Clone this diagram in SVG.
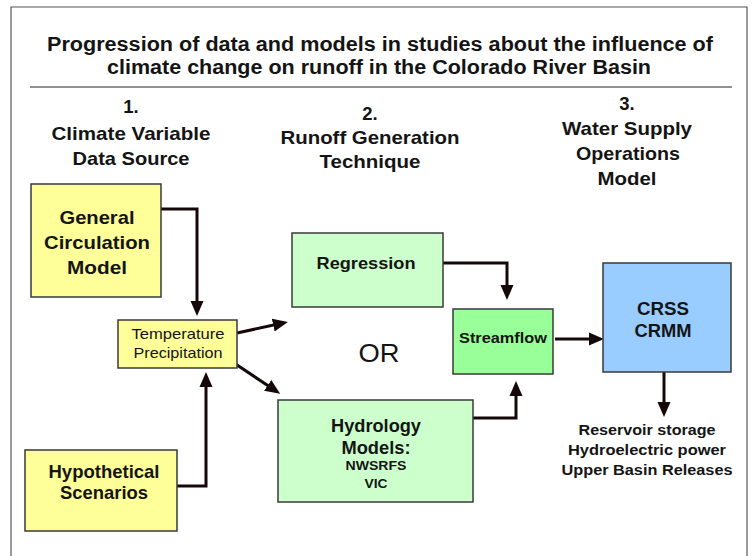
<svg xmlns="http://www.w3.org/2000/svg" width="756" height="556" viewBox="0 0 756 556">
<defs>
<marker id="ah" markerUnits="userSpaceOnUse" markerWidth="16" markerHeight="14" refX="10" refY="7" orient="auto">
<path d="M0,0.5 L15,7 L0,13.5 z" fill="#140808"/>
</marker>
<style>
text{font-family:"Liberation Sans",Arial,sans-serif;fill:#141414;text-anchor:middle;dominant-baseline:central}
.b{font-weight:bold}
.box{stroke:#3a3a3a;stroke-width:1.5}
.y{fill:#ffff99}.lg{fill:#ccffcc}.g{fill:#99ff99}.bl{fill:#99ccff}
.c{fill:none;stroke:#140808;stroke-width:3;marker-end:url(#ah)}
</style>
</defs>
<rect width="756" height="556" fill="#fff"/>
<path d="M11,556 V7 H747 V556" fill="none" stroke="#555" stroke-width="1.2"/>
<g id="title">
<text class="b" x="380" y="44" font-size="19.5" textLength="666" lengthAdjust="spacingAndGlyphs">Progression of data and models in studies about the influence of</text>
<text class="b" x="379" y="67" font-size="19.5" textLength="544" lengthAdjust="spacingAndGlyphs">climate change on runoff in the Colorado River Basin</text>
<line x1="30" y1="87" x2="732" y2="87" stroke="#222" stroke-width="1.2"/>
</g>
<g id="headers">
<text class="b" x="131" y="106" font-size="18.5">1.</text>
<text class="b" x="131" y="133" font-size="18.5" textLength="159" lengthAdjust="spacingAndGlyphs">Climate Variable</text>
<text class="b" x="131" y="158" font-size="18.5" textLength="117" lengthAdjust="spacingAndGlyphs">Data Source</text>
<text class="b" x="370" y="113" font-size="18.5">2.</text>
<text class="b" x="370" y="137" font-size="18.5" textLength="179" lengthAdjust="spacingAndGlyphs">Runoff Generation</text>
<text class="b" x="370" y="161" font-size="18.5" textLength="101" lengthAdjust="spacingAndGlyphs">Technique</text>
<text class="b" x="627" y="103" font-size="18.5">3.</text>
<text class="b" x="627" y="128" font-size="18.5" textLength="130" lengthAdjust="spacingAndGlyphs">Water Supply</text>
<text class="b" x="628" y="153" font-size="18.5" textLength="104" lengthAdjust="spacingAndGlyphs">Operations</text>
<text class="b" x="627" y="178" font-size="18.5" textLength="59" lengthAdjust="spacingAndGlyphs">Model</text>
</g>
<g id="connectors">
<path class="c" d="M161,209 H197 V311"/>
<path class="c" d="M177,486 H206 V377"/>
<path class="c" d="M237,333 L283,323"/>
<path class="c" d="M228,359 L276,391"/>
<path class="c" d="M443,263 H507 V295"/>
<path class="c" d="M468,418 H516 V386"/>
<path class="c" d="M555,339 H599"/>
<path class="c" d="M664,372 V412"/>
</g>
<g id="gcm">
<rect class="box y" x="31" y="184" width="130" height="113"/>
<text class="b" x="97" y="217" font-size="18.5" textLength="75" lengthAdjust="spacingAndGlyphs">General</text>
<text class="b" x="97" y="242" font-size="18.5" textLength="106" lengthAdjust="spacingAndGlyphs">Circulation</text>
<text class="b" x="97" y="267" font-size="18.5" textLength="60" lengthAdjust="spacingAndGlyphs">Model</text>
</g>
<g id="temp">
<rect class="box y" x="118" y="320" width="119" height="48"/>
<text x="178" y="334" font-size="14.5" textLength="93" lengthAdjust="spacingAndGlyphs">Temperature</text>
<text x="178" y="353" font-size="14.5" textLength="89" lengthAdjust="spacingAndGlyphs">Precipitation</text>
</g>
<g id="hypo">
<rect class="box y" x="25" y="450" width="152" height="81"/>
<text class="b" x="104" y="471" font-size="18.5" textLength="111" lengthAdjust="spacingAndGlyphs">Hypothetical</text>
<text class="b" x="104" y="492" font-size="18.5" textLength="88" lengthAdjust="spacingAndGlyphs">Scenarios</text>
</g>
<g id="regression">
<rect class="box lg" x="292" y="233" width="151" height="74"/>
<text class="b" x="366" y="263" font-size="16.5" textLength="99" lengthAdjust="spacingAndGlyphs">Regression</text>
</g>
<g id="or">
<text x="379" y="353" font-size="25" textLength="41" lengthAdjust="spacingAndGlyphs">OR</text>
</g>
<g id="hydrology">
<rect class="box lg" x="278" y="400" width="195" height="102"/>
<text class="b" x="376" y="425" font-size="18.5" textLength="90" lengthAdjust="spacingAndGlyphs">Hydrology</text>
<text class="b" x="376" y="447" font-size="18.5" textLength="69" lengthAdjust="spacingAndGlyphs">Models:</text>
<text class="b" x="376" y="465" font-size="13" textLength="61" lengthAdjust="spacingAndGlyphs">NWSRFS</text>
<text class="b" x="376" y="483" font-size="13" textLength="23" lengthAdjust="spacingAndGlyphs">VIC</text>
</g>
<g id="streamflow">
<rect class="box g" x="453" y="309" width="100" height="65"/>
<text class="b" x="503" y="337" font-size="15" textLength="88" lengthAdjust="spacingAndGlyphs">Streamflow</text>
</g>
<g id="crss">
<rect class="box bl" x="603" y="263" width="128" height="109"/>
<text class="b" x="663" y="308" font-size="18.5" textLength="52" lengthAdjust="spacingAndGlyphs">CRSS</text>
<text class="b" x="663" y="330" font-size="18.5" textLength="57" lengthAdjust="spacingAndGlyphs">CRMM</text>
</g>
<g id="outputs">
<text class="b" x="647" y="430" font-size="14.5" textLength="137" lengthAdjust="spacingAndGlyphs">Reservoir storage</text>
<text class="b" x="647" y="450" font-size="14.5" textLength="158" lengthAdjust="spacingAndGlyphs">Hydroelectric power</text>
<text class="b" x="647" y="470" font-size="14.5" textLength="171" lengthAdjust="spacingAndGlyphs">Upper Basin Releases</text>
</g>
</svg>
